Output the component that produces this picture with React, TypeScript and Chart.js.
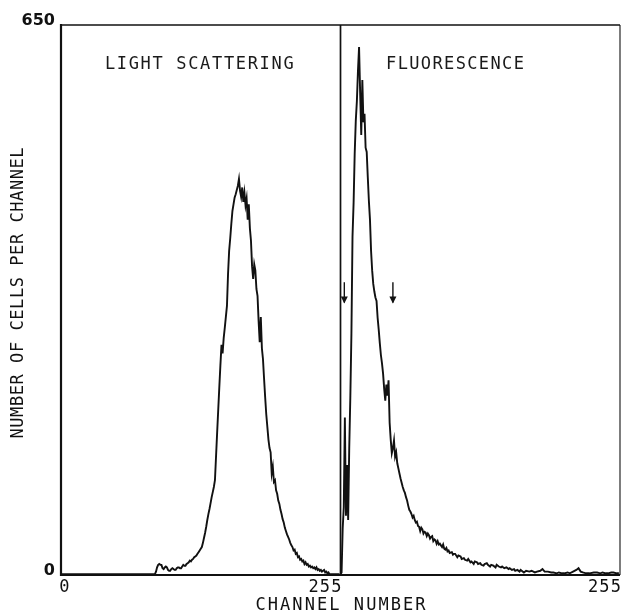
import React, { useEffect, useRef } from "react";
import { Chart, registerables } from "chart.js";

Chart.register(...registerables);

// ---------- data ----------
// Light scattering histogram (left panel): channel -> cells per channel
const scatterChannels = [
  0, 20, 40, 60, 80, 86, 87, 88, 89, 90, 91, 92, 93, 94, 95, 96, 97, 98, 99, 100,
  101, 102, 103, 104, 105, 106, 107, 108, 109, 110, 111, 112, 113, 114, 115, 116, 117, 118, 119, 120,
  121, 122, 123, 124, 125, 126, 127, 128, 129, 130, 131, 132, 133, 134, 135, 136, 137, 138, 139, 140,
  141, 142, 143, 144, 145, 146, 147, 148, 149, 150, 151, 152, 153, 154, 155, 156, 157, 158, 159, 160,
  161, 162, 163, 164, 165, 166, 167, 168, 169, 170, 171, 172, 173, 174, 175, 176, 177, 178, 179, 180,
  181, 182, 183, 184, 185, 186, 187, 188, 189, 190, 191, 192, 193, 194, 195, 196, 197, 198, 199, 200,
  201, 202, 203, 204, 205, 206, 207, 208, 209, 210, 211, 212, 213, 214, 215, 216, 217, 218, 219, 220,
  221, 222, 223, 224, 225, 226, 227, 228, 229, 230, 231, 232, 233, 234, 235, 236, 237, 238, 239, 240,
  241, 242, 243, 244, 245, 246, 250, 255,
];
const scatterCounts = [
  1, 1, 1, 1, 1, 1, 4, 9, 12, 13, 12, 12, 8, 7, 9, 10, 9, 6, 5, 5,
  7, 8, 7, 6, 6, 8, 9, 9, 8, 8, 10, 12, 11, 11, 13, 14, 15, 17, 16, 18,
  19, 21, 22, 23, 25, 27, 29, 31, 33, 38, 44, 50, 57, 65, 72, 78, 85, 92, 98, 104,
  112, 140, 168, 195, 222, 248, 272, 262, 280, 292, 305, 318, 356, 383, 398, 415, 430, 438, 446, 450,
  455, 460, 468, 454, 447, 458, 441, 452, 437, 445, 420, 438, 410, 395, 365, 350, 367, 360, 338, 330,
  300, 275, 305, 268, 255, 232, 210, 190, 175, 160, 150, 145, 120, 128, 110, 112, 100, 96, 88, 84,
  77, 72, 66, 62, 56, 52, 48, 45, 42, 38, 35, 33, 29, 30, 25, 26, 21, 22, 18, 19,
  16, 17, 13, 15, 12, 13, 10, 11, 9, 10, 8, 9, 7, 9, 6, 7, 5, 6, 4, 5,
  6, 3, 4, 2, 3, 1, 1, 1,
];

// Fluorescence histogram (right panel): channel -> cells per channel
const fluorChannels = [
  0, 1, 2, 3, 4, 5, 6, 7, 8, 9, 10, 11, 12, 13, 14, 15, 16, 17, 18, 19,
  20, 21, 22, 23, 24, 25, 26, 27, 28, 29, 30, 31, 32, 33, 34, 35, 36, 37, 38, 39,
  40, 41, 42, 43, 44, 45, 46, 47, 48, 49, 50, 51, 52, 53, 54, 55, 56, 57, 58, 59,
  60, 61, 62, 63, 64, 65, 66, 67, 68, 69, 70, 71, 72, 73, 74, 75, 76, 77, 78, 79,
  80, 81, 82, 83, 84, 85, 86, 87, 88, 89, 90, 91, 92, 93, 94, 95, 96, 97, 98, 99,
  100, 102, 103, 104, 105, 107, 108, 110, 111, 113, 114, 116, 117, 119, 120, 122, 123, 125, 126, 128,
  129, 131, 132, 134, 135, 137, 138, 140, 142, 143, 145, 147, 148, 150, 152, 154, 155, 157, 159, 160,
  162, 164, 165, 168, 170, 173, 175, 178, 180, 183, 185, 187, 190, 193, 195, 198, 200, 203, 205, 208,
  210, 213, 216, 218, 220, 222, 225, 228, 232, 235, 238, 240, 243, 245, 248, 250, 253, 255,
];
const fluorCounts = [
  1, 3, 55, 80, 186, 70, 130, 65, 150, 210, 285, 400, 440, 498, 537, 560, 596, 624, 570, 520,
  585, 535, 545, 505, 500, 470, 442, 420, 383, 360, 344, 335, 328, 324, 304, 290, 274, 260, 250, 238,
  220, 206, 225, 212, 230, 180, 160, 144, 150, 159, 140, 145, 132, 126, 120, 114, 109, 104, 100, 97,
  92, 88, 82, 77, 75, 72, 68, 70, 65, 62, 63, 58, 57, 52, 56, 54, 49, 51, 50, 46,
  49, 47, 43, 45, 46, 40, 42, 41, 37, 40, 36, 37, 35, 33, 36, 31, 30, 32, 28, 29,
  26, 27, 24, 25, 25, 21, 23, 22, 19, 20, 18, 17, 19, 15, 16, 13, 16, 15, 13, 14,
  12, 11, 13, 14, 12, 10, 12, 11, 9, 12, 10, 9, 10, 8, 9, 7, 8, 6, 7, 5,
  6, 4, 6, 3, 5, 4, 5, 3, 4, 5, 7, 4, 4, 3, 3, 2, 3, 2, 2, 3,
  2, 4, 6, 8, 4, 3, 2, 2, 3, 3, 2, 3, 2, 2, 3, 3, 2, 2,
];

// axis / tick text
const yTickValues = [0, 650];
const xTickValues = [0, 256, 512];
const xTickLabels = ["0", "255", "255"];
const xTitle = "CHANNEL NUMBER";
const yTitle = "NUMBER OF CELLS PER CHANNEL";
const panelTitles = ["LIGHT SCATTERING", "FLUORESCENCE"];
const arrowChannels = [3.5, 48]; // fluorescence channels marked with arrows

// ---------- layout / style constants ----------
const PANEL_OFFSET = 256; // second panel starts here on the shared x scale
const X_MAX = 512;
const Y_MAX = 650;
const INK = "#111";
const LETTER_FONT = '17px "DejaVu Sans Mono", "Liberation Mono", monospace';
const GLYPH_W = 8.5; // approximate ink width of one plotter letter
const xTickAligns = ["left", "right", "right"];
const panelTitleX = [41, 298.5];
const panelTitleY = 603;
const panelPitch = [11.9, 11.6];
const arrowTop = 346;
const arrowTip = 322;

// draws text in fixed-pitch "plotter" lettering; (left, cy) = left ink edge and vertical centre
function drawPitched(ctx: CanvasRenderingContext2D, text: string, left: number, cy: number, pitch: number) {
  ctx.textAlign = "center";
  ctx.textBaseline = "middle";
  for (let i = 0; i < text.length; i++) {
    const ch = text[i];
    if (ch === " ") continue;
    ctx.fillText(ch, left + GLYPH_W / 2 + i * pitch, cy);
  }
}
const pitchedWidth = (text: string, pitch: number) => (text.length - 1) * pitch + GLYPH_W;

const overlay = {
  id: "overlay",
  afterDraw(chart: any) {
    const { ctx, chartArea: a, scales } = chart;
    const x = scales.x;
    const y = scales.y;
    ctx.save();
    ctx.strokeStyle = INK;
    ctx.fillStyle = INK;
    const seg = (x1: number, y1: number, x2: number, y2: number, w: number) => {
      ctx.lineWidth = w;
      ctx.beginPath();
      ctx.moveTo(x1, y1);
      ctx.lineTo(x2, y2);
      ctx.stroke();
    };
    // frame
    seg(a.left, a.top - 1, a.left, a.bottom + 1, 2.2);
    seg(a.left, a.top, a.right, a.top, 1.6);
    seg(a.right, a.top, a.right, a.bottom, 1.1);
    seg(a.left, a.bottom, a.right, a.bottom, 1.8);
    // divider between panels
    const xd = x.getPixelForValue(PANEL_OFFSET);
    seg(xd, a.top, xd, a.bottom, 1.7);

    ctx.font = LETTER_FONT;
    // x tick labels
    xTickValues.forEach((v, i) => {
      const px = x.getPixelForValue(v);
      const w = pitchedWidth(xTickLabels[i], 11.3);
      const left = xTickAligns[i] === "left" ? px - 1 : px - w;
      drawPitched(ctx, xTickLabels[i], left, a.bottom + 13, 11.3);
    });

    // x axis title
    const xw = pitchedWidth(xTitle, 12.3);
    drawPitched(ctx, xTitle, (a.left + a.right) / 2 - xw / 2, a.bottom + 31, 12.3);

    // y axis title (rotated)
    ctx.save();
    ctx.translate(18.5, (a.top + a.bottom) / 2 - 7);
    ctx.rotate(-Math.PI / 2);
    const yw = pitchedWidth(yTitle, 10.8);
    drawPitched(ctx, yTitle, -yw / 2, 0, 10.8);
    ctx.restore();

    // panel titles
    ctx.fillStyle = "#1a1a1a";
    panelTitles.forEach((t, i) => {
      drawPitched(ctx, t, x.getPixelForValue(panelTitleX[i]), y.getPixelForValue(panelTitleY), panelPitch[i]);
    });

    // arrows
    ctx.fillStyle = INK;
    arrowChannels.forEach((c) => {
      const px = x.getPixelForValue(PANEL_OFFSET + c);
      const yt = y.getPixelForValue(arrowTop);
      const yb = y.getPixelForValue(arrowTip);
      seg(px, yt, px, yb, 1.4);
      ctx.beginPath();
      ctx.moveTo(px - 3.5, yb - 6);
      ctx.lineTo(px + 3.5, yb - 6);
      ctx.lineTo(px, yb + 1);
      ctx.closePath();
      ctx.fill();
    });
    ctx.restore();
  },
};

export default function App() {
  const ref = useRef<HTMLCanvasElement>(null);

  useEffect(() => {
    const scatterData = scatterChannels.map((c, i) => ({ x: c, y: scatterCounts[i] }));
    const fluorData = fluorChannels.map((c, i) => ({ x: PANEL_OFFSET + c, y: fluorCounts[i] }));
    const chart = new Chart(ref.current as HTMLCanvasElement, {
      type: "scatter",
      data: {
        datasets: [
          {
            label: "Light scattering",
            data: scatterData,
            showLine: true,
            borderColor: INK,
            borderWidth: 1.9,
            pointRadius: 0,
            tension: 0,
          },
          {
            label: "Fluorescence",
            data: fluorData,
            showLine: true,
            borderColor: INK,
            borderWidth: 1.9,
            pointRadius: 0,
            tension: 0,
          },
        ],
      },
      options: {
        responsive: false,
        maintainAspectRatio: false,
        animation: false,
        devicePixelRatio: 1,
        layout: { padding: { top: 25, right: 1, left: 0, bottom: 0 } },
        plugins: {
          legend: { display: false },
          tooltip: { enabled: false },
        },
        scales: {
          x: {
            type: "linear",
            min: 0,
            max: X_MAX,
            grid: { display: false, drawTicks: false },
            border: { display: false },
            ticks: { display: false },
            afterFit: (s: any) => {
              s.height = 38;
            },
            title: { display: false, text: xTitle },
          },
          y: {
            type: "linear",
            min: 0,
            max: Y_MAX,
            grid: { display: false, drawTicks: false },
            border: { display: false },
            afterBuildTicks: (s: any) => {
              s.ticks = yTickValues.map((v) => ({ value: v }));
            },
            ticks: {
              color: INK,
              padding: 6,
              labelOffset: -4,
              font: { family: '"DejaVu Sans", sans-serif', size: 16, weight: "bold" },
              callback: (v: any) => String(v),
            },
            afterFit: (s: any) => {
              s.width = 61;
            },
            title: { display: false, text: yTitle },
          },
        },
      },
      plugins: [overlay],
    } as any);
    return () => chart.destroy();
  }, []);

  return (
    <div style={{ position: "absolute", left: 0, top: 0, width: 621, height: 613, background: "#fff" }}>
      <canvas ref={ref} width={621} height={613} style={{ display: "block", width: 621, height: 613 }} />
    </div>
  );
}
